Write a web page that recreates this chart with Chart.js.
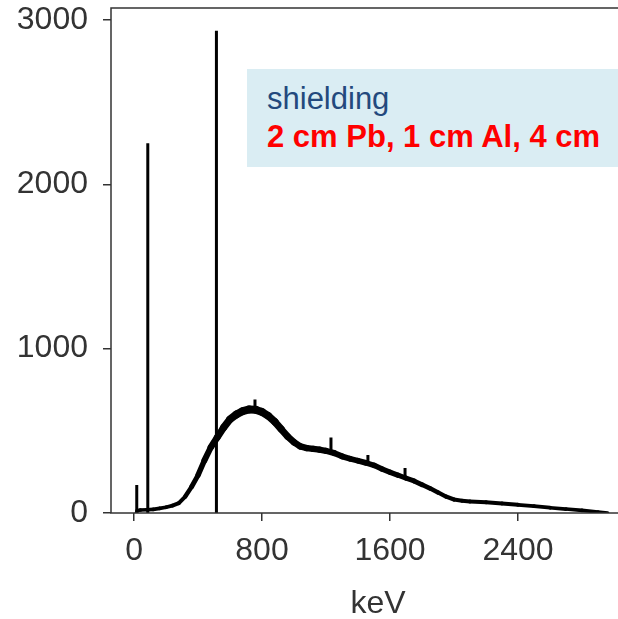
<!DOCTYPE html>
<html>
<head>
<meta charset="utf-8">
<script src="https://cdn.jsdelivr.net/npm/chart.js@4.4.1/dist/chart.umd.min.js"></script>
<style>
    html, body { margin: 0; padding: 0; background: #fff; overflow: hidden; }
    #wrap { position: relative; width: 618px; height: 619px; overflow: hidden; }
    #spectrum { position: absolute; left: 0; top: 0; }
    .note {
        position: absolute; left: 247px; top: 69px; width: 420px; height: 98px;
        background: #daedf3; box-sizing: border-box; padding: 11px 0 0 20px;
        font-family: 'Liberation Sans', Arial, sans-serif; font-size: 31px; line-height: 38px;
        white-space: nowrap;
    }
    .note .label { color: #23497d; }
    .note .value { color: #ff0000; font-weight: bold; }
</style>
</head>
<body>
<div id="wrap">
    <canvas id="spectrum" width="660" height="619"></canvas>
    <div class="note">
        <div class="label">shielding</div>
        <div class="value">2 cm Pb, 1 cm Al, 4 cm</div>
    </div>
</div>
<script>
// Continuum (counts per channel)
const contKeV = [15, 20, 40, 80, 120, 160, 200, 240, 280, 320, 360, 400, 440, 480, 520, 560, 600, 640, 680,
    720, 760, 800, 840, 880, 920, 960, 1000, 1040, 1080, 1120, 1160, 1200, 1250, 1300, 1350, 1400, 1450,
    1500, 1550, 1600, 1650, 1700, 1750, 1800, 1850, 1900, 1950, 2000, 2050, 2100, 2200, 2300, 2400, 2500,
    2600, 2700, 2800, 2900, 2960];
const contCounts = [0, 15, 18, 20, 22, 28, 35, 45, 60, 100, 160, 230, 320, 400, 460, 520, 570, 600, 620,
    630, 628, 615, 590, 555, 510, 465, 430, 405, 395, 390, 385, 378, 365, 345, 330, 318, 305,
    290, 268, 248, 230, 212, 195, 172, 150, 125, 100, 82, 75, 70, 65, 58, 50, 42,
    32, 24, 16, 6, 0];

// Narrow lines (peaks and single-channel spikes)
const peakKeV = [17, 86, 515, 756, 1231, 1462, 1694];
const peakTop = [170, 2250, 2935, 690, 460, 353, 274];
const peakBase = [0, 0, 0, 620, 370, 305, 220];

const xTicks = [0, 800, 1600, 2400];
const yTicks = [0, 1000, 2000, 3000];

const fontFamily = "'Liberation Sans', Arial, sans-serif";
const axisColor = '#333';

function buildPeaks() {
    const pts = [];
    peakKeV.forEach(function(e, i) {
        pts.push({ x: e, y: peakBase[i] });
        pts.push({ x: e, y: peakTop[i] });
        pts.push({ x: e, y: null });
    });
    return pts;
}

// frame around the plot area
const framePlugin = {
    id: 'frame',
    afterDraw(chart) {
        const a = chart.chartArea;
        const ctx = chart.ctx;
        ctx.save();
        ctx.strokeStyle = axisColor;
        ctx.lineWidth = 1.5;
        ctx.strokeRect(a.left, a.top, a.right - a.left, a.bottom - a.top);
        ctx.restore();
    }
};

const ctx = document.getElementById('spectrum').getContext('2d');
new Chart(ctx, {
    type: 'line',
    data: {
        datasets: [
            {
                data: contKeV.map((e, i) => ({ x: e, y: contCounts[i] })),
                borderColor: '#000',
                pointRadius: 0,
                borderCapStyle: 'round',
                borderJoinStyle: 'round',
                segment: {
                    borderWidth: c => 3.5 + (c.p0.parsed.y + c.p1.parsed.y) / 280
                }
            },
            {
                data: buildPeaks(),
                borderColor: '#000',
                borderWidth: 3,
                pointRadius: 0,
                spanGaps: false
            }
        ]
    },
    options: {
        responsive: false,
        animation: false,
        devicePixelRatio: 1,
        layout: { padding: { left: 0, top: 8, right: 15, bottom: 0 } },
        plugins: { legend: { display: false }, tooltip: { enabled: false } },
        scales: {
            x: {
                type: 'linear',
                min: -144,
                max: 3194,
                afterBuildTicks: s => { s.ticks = xTicks.map(v => ({ value: v })); },
                afterFit: s => { s.height = 106; s.paddingLeft = 0; s.paddingRight = 0; },
                border: { display: false },
                grid: { drawOnChartArea: false, drawTicks: true, tickLength: 8, color: axisColor, lineWidth: 1.5 },
                ticks: {
                    padding: 11, color: axisColor, maxRotation: 0,
                    font: { family: fontFamily, size: 32 },
                    callback: v => String(v)
                },
                title: { display: true, text: 'keV', color: axisColor, padding: { top: 0, bottom: -4 }, font: { family: fontFamily, size: 32 } }
            },
            y: {
                min: 0,
                max: 3073,
                afterBuildTicks: s => { s.ticks = yTicks.map(v => ({ value: v })); },
                afterFit: s => { s.width = 111; s.paddingTop = 0; s.paddingBottom = 0; },
                border: { display: false },
                grid: { drawOnChartArea: false, drawTicks: true, tickLength: 8, color: axisColor, lineWidth: 1.5 },
                ticks: {
                    padding: 15, color: axisColor,
                    font: { family: fontFamily, size: 32 },
                    callback: v => String(v)
                }
            }
        }
    },
    plugins: [framePlugin]
});
</script>
</body>
</html>
